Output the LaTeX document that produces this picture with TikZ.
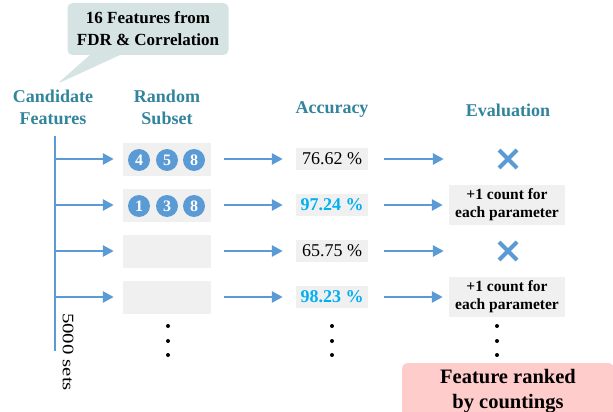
\documentclass[tikz,border=0pt]{standalone}
\usepackage{fontspec}
\setmainfont{Liberation Serif}
\usetikzlibrary{arrows.meta,shapes.callouts}
\definecolor{arrowblue}{RGB}{91,155,213}
\definecolor{headteal}{RGB}{49,132,155}
\definecolor{accblue}{RGB}{0,176,240}
\definecolor{calloutgray}{RGB}{214,227,227}
\definecolor{boxgray}{RGB}{240,240,240}
\definecolor{rankpink}{RGB}{255,204,204}

\begin{document}
\begin{tikzpicture}[x=1pt, y=-1pt,
		head/.style={text=headteal, align=center, font=\fontsize{18}{22}\selectfont\bfseries},
		arr/.style={-{Triangle[length=11pt,width=11pt]}, line width=2.7pt, draw=arrowblue},
		subset/.style={fill=boxgray, minimum width=88pt, minimum height=33pt, inner sep=0pt},
		num/.style={circle, fill=arrowblue, text=white, minimum size=22pt, inner sep=0pt, font=\fontsize{16}{16}\selectfont\bfseries},
		acc/.style={fill=boxgray, minimum width=72pt, minimum height=22pt, inner sep=0pt, font=\fontsize{18}{18}\selectfont},
		hit/.style={acc, text=accblue, font=\fontsize{18}{18}\selectfont\bfseries},
		count/.style={fill=boxgray, minimum width=116pt, minimum height=40pt, inner sep=0pt, align=center, font=\fontsize{15.5}{18}\selectfont\bfseries},
		miss/.style={minimum width=116pt, minimum height=40pt, inner sep=0pt, path picture={
			\draw[arrowblue, line width=4pt] ([shift={(-9pt,-9pt)}]path picture bounding box.center) -- ([shift={(9pt,9pt)}]path picture bounding box.center);
			\draw[arrowblue, line width=4pt] ([shift={(-9pt,9pt)}]path picture bounding box.center) -- ([shift={(9pt,-9pt)}]path picture bounding box.center);}},
		dot/.style={circle, fill=black, inner sep=0pt, minimum size=4pt}]
	\useasboundingbox (0,0) rectangle (613,412);
	\clip (0,0) rectangle (613,412);
	
	\node[rectangle callout, fill=calloutgray, rounded corners=5pt, minimum width=161pt, minimum height=52pt, callout absolute pointer={(57,84)}, callout pointer width=30pt, align=center, font=\fontsize{17}{22}\selectfont\bfseries] (src) at (148,29) {16 Features from\\FDR \& Correlation};
	
	\node[head] (cand) at (53,107) {Candidate\\Features};
	\node[head] (rand) at (167,107) {Random\\Subset};
	\node[head] (accu) at (332,110) {Accuracy};
	\node[head] (eval) at (508,110) {Evaluation};
	
	\coordinate (t0) at (55,136);
	\coordinate (t1) at (55,351);
	\coordinate (r1) at (55,159);
	\coordinate (r2) at (55,205);
	\coordinate (r3) at (55,251);
	\coordinate (r4) at (55,297);
	\draw[line width=2.7pt, arrowblue] (t0) -- (t1);
	\node[rotate=-90, xscale=1.3, font=\fontsize{16}{16}\selectfont] (sets) at (68,352) {5000 sets};
	
	\node[subset] (s1) at (167,159) {};
	\node[num] (n4) at (139,160) {4};
	\node[num] (n5) at (167,160) {5};
	\node[num] (n8) at (194,160) {8};
	\node[acc] (a1) at (332,159) {76.62 \%};
	\node[miss] (e1) at (508,159) {};
	
	\node[subset] (s2) at (167,205) {};
	\node[num] (m1) at (139,206) {1};
	\node[num] (m3) at (167,206) {3};
	\node[num] (m8) at (194,206) {8};
	\node[hit] (a2) at (332,205) {97.24 \%};
	\node[count] (e2) at (507,205) {+1 count for\\each parameter};
	
	\node[subset] (s3) at (167,251) {};
	\node[acc] (a3) at (332,251) {65.75 \%};
	\node[miss] (e3) at (508,251) {};
	
	\node[subset] (s4) at (167,297) {};
	\node[hit] (a4) at (332,297) {98.23 \%};
	\node[count] (e4) at (507,297) {+1 count for\\each parameter};
	
	\draw[arr, shorten >=9pt] (r1) to (s1);
	\draw[arr, shorten <=13pt, shorten >=13pt] (s1) to (a1);
	\draw[arr, shorten <=16pt, shorten >=6pt] (a1) to (e1);
	\draw[arr, shorten >=9pt] (r2) to (s2);
	\draw[arr, shorten <=13pt, shorten >=13pt] (s2) to (a2);
	\draw[arr, shorten <=16pt, shorten >=6pt] (a2) to (e2);
	\draw[arr, shorten >=9pt] (r3) to (s3);
	\draw[arr, shorten <=13pt, shorten >=13pt] (s3) to (a3);
	\draw[arr, shorten <=16pt, shorten >=6pt] (a3) to (e3);
	\draw[arr, shorten >=9pt] (r4) to (s4);
	\draw[arr, shorten <=13pt, shorten >=13pt] (s4) to (a4);
	\draw[arr, shorten <=16pt, shorten >=6pt] (a4) to (e4);
	
	\foreach \c in {168,332,497}
		\foreach \r in {326,341,355}
			\node[dot] (d-\c-\r) at (\c,\r) {};
	
	\node[fill=rankpink, rounded corners=6pt, minimum width=212pt, minimum height=56pt, align=center, font=\fontsize{20.5}{25}\selectfont\bfseries] (rank) at (508,391) {Feature ranked\\by countings};
	
\end{tikzpicture}
\end{document}
